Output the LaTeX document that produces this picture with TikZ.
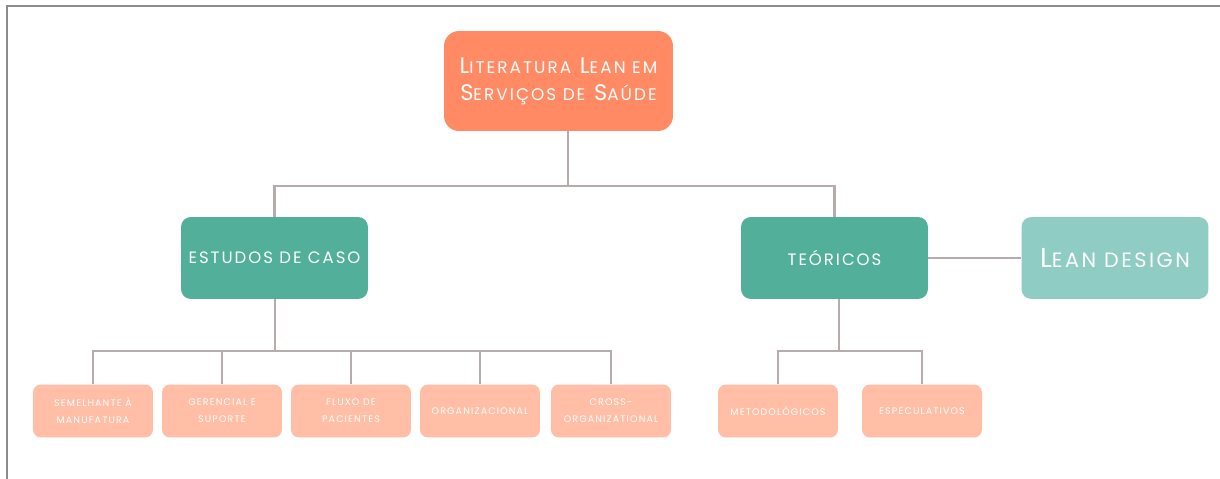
\documentclass[tikz,border=0pt]{standalone}
\usepackage{fontspec}
\usepackage{tikz}
\usepackage{xcolor}
\setmainfont{Poppins}[LetterSpace=12]
\usetikzlibrary{shapes,arrows,positioning}
\definecolor{rootfill}{RGB}{255, 138, 99}
\definecolor{mainfill}{RGB}{82, 176, 154}
\definecolor{sidefill}{RGB}{142, 204, 196}
\definecolor{leaffill}{RGB}{255, 190, 165}
\definecolor{linkgray}{RGB}{182, 172, 172}
\definecolor{framegray}{RGB}{140, 140, 140}
\newcommand{\lowcaps}[1]{{\fontsize{9.6pt}{11pt}\selectfont #1}}
\tikzstyle{link} = [
    line width=1.6pt,
    draw=linkgray
]
\tikzstyle{rootbox} = [
    rectangle,
    rounded corners=3mm,
    minimum width=4.58cm,
    minimum height=2cm,
    align=center,
    fill=rootfill,
    text=white,
    font={\fontsize{12.8pt}{15.4pt}\selectfont}
]
\tikzstyle{mainbox} = [
    rectangle,
    rounded corners=2mm,
    minimum width=3.74cm,
    minimum height=1.64cm,
    align=center,
    fill=mainfill,
    text=white,
    font={\fontsize{9.4pt}{11pt}\selectfont}
]
\tikzstyle{leafbox} = [
    rectangle,
    rounded corners=1.6mm,
    minimum width=2.4cm,
    minimum height=1.06cm,
    align=center,
    fill=leaffill,
    text=white,
    font={\fontsize{5.4pt}{9.6pt}\selectfont}
]

\begin{document}
\begin{tikzpicture}[x=0.02cm, y=-0.02cm]
    \useasboundingbox[fill=white] (0,0) rectangle (1220,479);
    \draw[framegray, line width=0.6pt] (1220,6) -- (7,6) -- (7,479);

    % top of the tree
    \node[rootbox] (root) at (558.5,81)
        {L\lowcaps{ITERATURA} L\lowcaps{EAN EM}\\S\lowcaps{ERVIÇOS DE} S\lowcaps{AÚDE}};
    \node[mainbox] (estudos) at (274.5,258) {ESTUDOS DE CASO};
    \node[mainbox] (teoricos) at (834.5,258) {TEÓRICOS};
    \node[mainbox, fill=sidefill, font={\fontsize{15.6pt}{17pt}\selectfont}] (lean) at (1115,258)
        {L{\fontsize{11.8pt}{13pt}\selectfont EAN DESIGN}};

    % leaves
    \node[leafbox] (s1) at (93,411) {SEMELHANTE À\\MANUFATURA};
    \node[leafbox] (s2) at (222,411) {GERENCIAL E\\SUPORTE};
    \node[leafbox] (s3) at (351,411) {FLUXO DE\\PACIENTES};
    \node[leafbox] (s4) at (480,411) {ORGANIZACIONAL};
    \node[leafbox] (s5) at (611,411) {CROSS-\\ORGANIZATIONAL};
    \node[leafbox] (t1) at (778,411) {METODOLÓGICOS};
    \node[leafbox] (t2) at (922,411) {ESPECULATIVOS};

    \coordinate (bar0) at (568,186);
    \coordinate (bar1) at (275,351);
    \coordinate (bar2) at (839,351);

    \draw[link] (root.south -| bar0) -- (bar0);
    \draw[link] (estudos.north) |- (bar0) -| (teoricos.north);
    \draw[link] (teoricos.east) -- (lean.west);
    \draw[link] (estudos.south -| bar1) -- (bar1);
    \foreach \n in {s1,s2,s3,s4,s5}
        \draw[link] (\n.north) |- (bar1);
    \draw[link] (teoricos.south -| bar2) -- (bar2);
    \foreach \n in {t1,t2}
        \draw[link] (\n.north) |- (bar2);
\end{tikzpicture}
\end{document}
